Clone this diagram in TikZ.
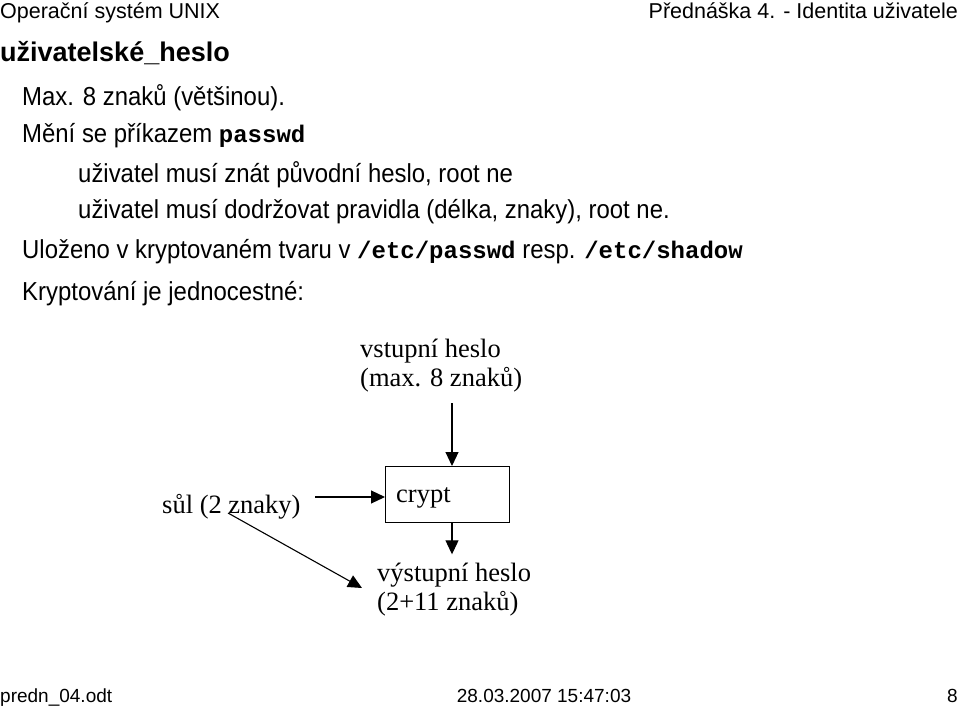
\documentclass[tikz,border=0pt]{standalone}
\usepackage{fontspec}
\setmainfont{Liberation Sans}
\setmonofont{Liberation Mono}
\newfontfamily\dserif{Liberation Serif}
\newfontfamily\bodyfont{Liberation Sans}[FakeStretch=0.92]
\usetikzlibrary{arrows.meta}
\tikzset{
  txt/.style={anchor=base west,inner sep=0pt,font=\bodyfont\fontsize{26}{28}\selectfont},
  hdr/.style={inner sep=0pt,font=\fontsize{21.5}{24}\selectfont},
  ftr/.style={inner sep=0pt,font=\fontsize{19}{22}\selectfont},
  dtxt/.style={anchor=base west,inner sep=0pt,align=left,font=\dserif\fontsize{26.5}{29}\selectfont},
  arr/.style={-{Triangle[length=14pt,width=13pt]},line width=1.1pt},
  box/.style={draw,line width=1.3pt,minimum width=124pt,minimum height=56pt,inner sep=0pt,anchor=north west},
}
\newcommand{\cmd}[1]{{\fontsize{24}{28}\selectfont\ttfamily\bfseries #1}}
\begin{document}
\begin{tikzpicture}[x=1pt,y=-1pt]
\useasboundingbox (0,0) rectangle (960,708);
\node[hdr,anchor=base west] (h1) at (0,19) {Operační systém UNIX};
\node[hdr,anchor=base east] (h2) at (958,19) {Přednáška 4. - Identita uživatele};
\node[anchor=base west,inner sep=0pt,font=\bfseries\fontsize{27}{30}\selectfont] (t) at (0,62) {uživatelské\_heslo};
\node[txt] (l1) at (22,106) {Max. 8 znaků (většinou).};
\node[txt] (l2) at (22,143) {Mění se příkazem \cmd{passwd}};
\node[txt] (l3) at (78,183) {uživatel musí znát původní heslo, root ne};
\node[txt] (l4) at (78,219) {uživatel musí dodržovat pravidla (délka, znaky), root ne.};
\node[txt] (l5) at (22,259) {Uloženo v kryptovaném tvaru v \cmd{/etc/passwd} resp. \cmd{/etc/shadow}};
\node[txt] (l6) at (22,301) {Kryptování je jednocestné:};
% diagram
\node[dtxt] (in) at (360,386) {vstupní heslo\\(max. 8 znaků)};
\node[box] (crypt) at (385,466) {};
\node[dtxt] (ct) at (396,502) {crypt};
\node[dtxt] (salt) at (162,513) {sůl (2 znaky)};
\node[dtxt] (out) at (377,610) {výstupní heslo\\(2+11 znaků)};
\coordinate (a1) at (452,403);
\coordinate (s1) at (315,497);
\coordinate (s2) at (228,513);
\coordinate (o1) at (362,588);
\draw[arr] (a1) -- (a1 |- crypt.north);
\draw[arr] (s1) -- (s1 -| crypt.west);
\draw[arr] (s2) -- (o1);
\draw[arr] (a1 |- crypt.south) -- ++(0,31) coordinate (o2);
% footer
\node[ftr,anchor=base west] (f1) at (0,702) {predn\_04.odt};
\node[ftr,anchor=base] (f2) at (544,702) {28.03.2007 15:47:03};
\node[ftr,anchor=base east] (f3) at (958,702) {8};
\end{tikzpicture}
\end{document}
